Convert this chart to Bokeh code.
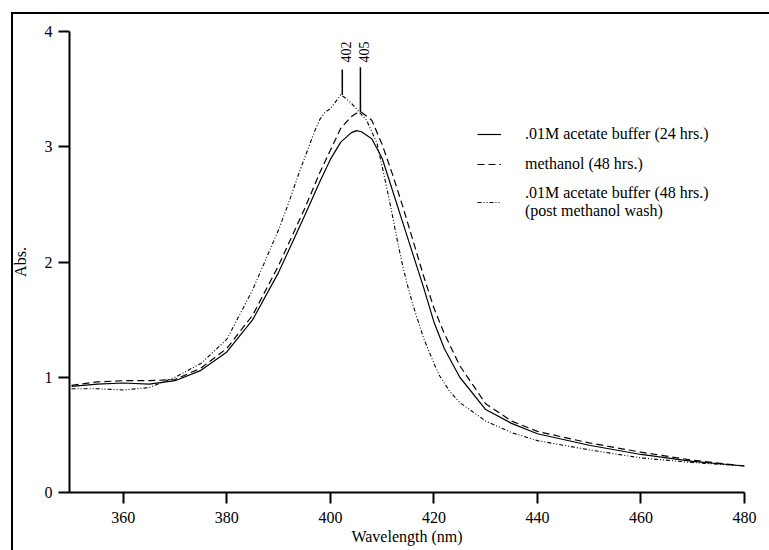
import math
from bokeh.plotting import figure
from bokeh.models import Legend, LegendItem, Range1d, FixedTicker, InlineStyleSheet
from bokeh.core.properties import value
from bokeh.embed import file_html
from bokeh.resources import INLINE

# ---- data ----
wl_a24 = [350, 355, 360, 365, 370, 375, 380, 385, 390, 395, 398, 400, 402, 404, 405, 406,
          408, 410, 412, 414, 416, 418, 420, 422, 425, 430, 435, 440, 450, 460, 470, 480]
abs_a24 = [0.92, 0.94, 0.95, 0.94, 0.97, 1.06, 1.22, 1.50, 1.91, 2.40, 2.70, 2.89, 3.04, 3.12, 3.14, 3.13,
           3.07, 2.90, 2.62, 2.34, 2.06, 1.78, 1.48, 1.25, 1.00, 0.72, 0.60, 0.51, 0.41, 0.33, 0.27, 0.23]

wl_meoh = [350, 355, 360, 365, 370, 375, 380, 385, 390, 395, 398, 400, 402, 404, 405, 406,
           408, 410, 412, 414, 416, 418, 420, 422, 425, 430, 435, 440, 450, 460, 470, 480]
abs_meoh = [0.93, 0.96, 0.97, 0.97, 0.98, 1.08, 1.25, 1.54, 1.97, 2.46, 2.78, 2.97, 3.16, 3.26, 3.29, 3.30,
            3.23, 3.02, 2.76, 2.48, 2.18, 1.88, 1.60, 1.38, 1.10, 0.77, 0.62, 0.53, 0.43, 0.35, 0.28, 0.23]

wl_a48 = [350, 355, 360, 365, 370, 375, 380, 385, 390, 392, 394, 396, 397, 398, 399, 400, 401, 402, 403,
          404, 405, 407, 409, 410, 411, 412, 413, 414, 415, 416, 417, 418, 419, 420, 421, 423, 425,
          430, 435, 440, 450, 460, 470, 480]
abs_a48 = [0.90, 0.90, 0.89, 0.91, 1.00, 1.12, 1.33, 1.76, 2.28, 2.52, 2.78, 3.02, 3.14, 3.24, 3.30, 3.33, 3.39, 3.45, 3.42,
           3.38, 3.33, 3.23, 3.03, 2.83, 2.62, 2.40, 2.17, 1.96, 1.78, 1.62, 1.48, 1.34, 1.23, 1.12, 1.02, 0.88, 0.78,
           0.62, 0.52, 0.45, 0.37, 0.30, 0.26, 0.23]

series_labels = [".01M acetate buffer (24 hrs.)",
                 "methanol (48 hrs.)",
                 ".01M acetate buffer (48 hrs.)\n(post methanol wash)"]

x_ticks = [360, 380, 400, 420, 440, 460, 480]
y_ticks = [0, 1, 2, 3, 4]

peak_labels = ["402", "405"]
peak_pos = [402.3, 405.8]
peak_line_top = [3.67, 3.69]
peak_line_bottom = [3.45, 3.30]
peak_text_y = [3.73, 3.73]

FONT = "Liberation Serif"

p = figure(width=769, height=550, output_backend="svg", toolbar_location=None,
           x_range=Range1d(349.6, 480), y_range=Range1d(0, 4),
           min_border_left=69, min_border_top=31, min_border_right=25, min_border_bottom=58)

# outer page frame: only its left and top edges fall inside the window
p.stylesheets = [InlineStyleSheet(css="""
:host { position: relative; overflow: hidden; }
:host::after {
  content: "";
  position: absolute;
  left: 11px; top: 12px; width: 800px; height: 600px;
  border-left: 2px solid black;
  border-top: 2px solid black;
  pointer-events: none;
  z-index: 50;
}
""")]

p.outline_line_color = None
p.grid.visible = False
p.background_fill_color = "white"
p.border_fill_color = "white"

for ax in (p.xaxis[0], p.yaxis[0]):
    ax.axis_line_width = 2
    ax.axis_line_color = "black"
    ax.major_tick_line_width = 2
    ax.major_tick_line_color = "black"
    ax.major_tick_out = 11
    ax.major_tick_in = 0
    ax.minor_tick_line_color = None
    ax.major_label_text_font = FONT
    ax.major_label_text_font_size = "16px"
    ax.major_label_text_color = "black"
    ax.axis_label_text_font = FONT
    ax.axis_label_text_font_size = "16px"
    ax.axis_label_text_font_style = "normal"
    ax.axis_label_text_color = "black"

p.xaxis.ticker = FixedTicker(ticks=x_ticks)
p.yaxis.ticker = FixedTicker(ticks=y_ticks)
p.xaxis.axis_label = "Wavelength (nm)"
p.yaxis.axis_label = "Abs."
p.xaxis.major_label_standoff = 8
p.xaxis.axis_label_standoff = 2
p.yaxis.major_label_standoff = 6
p.yaxis.axis_label_standoff = 13

r1 = p.line(wl_a24, abs_a24, line_color="black", line_width=1.2)
r2 = p.line(wl_meoh, abs_meoh, line_color="black", line_width=1.2, line_dash="7 4")
r3 = p.line(wl_a48, abs_a48, line_color="black", line_width=1.1, line_dash="4 2 1 2 1 2")

p.segment(x0=peak_pos, y0=peak_line_bottom, x1=peak_pos, y1=peak_line_top,
          line_color="black", line_width=1.5)
p.text(x=peak_pos, y=peak_text_y, text=peak_labels, angle=math.pi / 2,
       text_align="left", text_baseline="middle", x_offset=4,
       text_font=value(FONT), text_font_size="14px", text_color="black")

legend = Legend(items=[LegendItem(label=series_labels[0], renderers=[r1]),
                       LegendItem(label=series_labels[1], renderers=[r2]),
                       LegendItem(label=series_labels[2], renderers=[r3])],
                location=(408, 272))
legend.border_line_alpha = 0
legend.background_fill_alpha = 0
legend.padding = 0
legend.margin = 0
legend.spacing = 10
legend.glyph_width = 24
legend.glyph_height = 20
legend.label_height = 20
legend.label_standoff = 24
legend.label_text_font = FONT
legend.label_text_font_size = "16px"
legend.label_text_color = "black"
p.add_layout(legend)

open("out.html", "w").write(file_html(p, INLINE))
